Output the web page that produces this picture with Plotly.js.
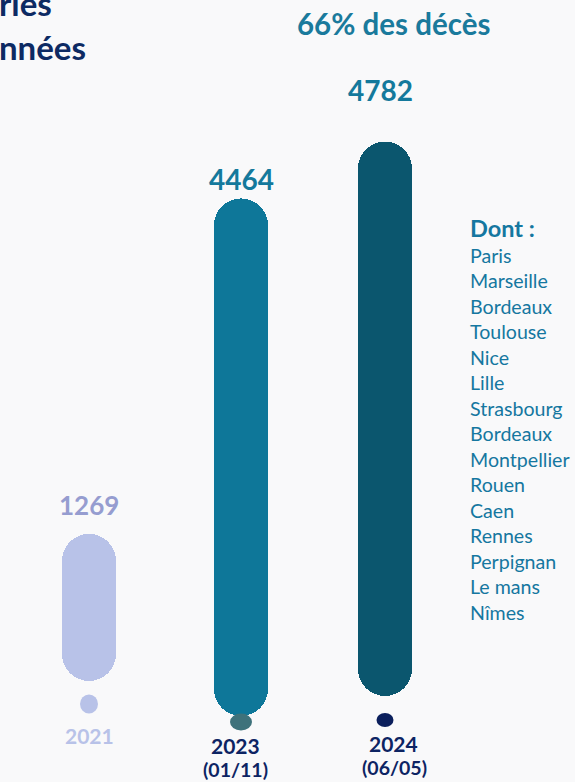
<!DOCTYPE html>
<html>
<head>
<meta charset="utf-8">
<script src="https://cdn.plot.ly/plotly-3.0.1.min.js"></script>
<style>
  html, body { margin: 0; padding: 0; background: #f9f9fa; }
  #chart { width: 575px; height: 782px; }
</style>
</head>
<body>
<div id="chart"></div>
<script>
// ---------- DATA ----------
const years = ['2021', '2023', '2024'];
const deaths = [1269, 4464, 4782];
const dateNotes = ['', '(01/11)', '(06/05)'];
const shareText = '66% des décès';
const listHeader = 'Dont :';
const cities = ['Paris', 'Marseille', 'Bordeaux', 'Toulouse', 'Nice', 'Lille', 'Strasbourg',
  'Bordeaux', 'Montpellier', 'Rouen', 'Caen', 'Rennes', 'Perpignan', 'Le mans', 'Nîmes'];
const titleLines = ['ries', 'nnées'];

// ---------- STYLE ----------
const W = 575, H = 782;
const FONT = 'Lato, "Open Sans", sans-serif';
const barColors = ['#b8c2e8', '#0e7799', '#0b566e'];
const labelColors = ['#969dd0', '#14799c', '#14799c'];
const yearColors = ['#b8c2e8', '#0d2463', '#0d2463'];
const dotColors = ['#b8c2e8', '#3e727b', '#0b1f5c'];
const cityColor = '#1577a0';
const titleColor = '#0d2a63';

const pxPerUnit = 0.11594;           // vertical scale (pixels per death)
const baselinePx = 700;              // pixel row of value 0
const yMin = -(H - baselinePx) / pxPerUnit;
const yMax = baselinePx / pxPerUnit;
const barLiftPx = [19, -16, 4];      // small vertical offsets of each pill
const base = barLiftPx.map(p => p / pxPerUnit);

const xDomain = [15 / W, 459 / W];
const catPx = (xDomain[1] - xDomain[0]) * W / years.length;
const barWidthPx = 54;
const barShiftPx = [0, 4, 0];
const w = barWidthPx / catPx;
const offs = barShiftPx.map(s => -w / 2 + s / catPx);

// pill = rounded upper half + rounded lower half + plain middle
const half = deaths.map(v => v / 2);
const mid = base.map((b, i) => b + deaths[i] / 2);
const common = {type: 'bar', x: years, width: w, offset: offs, hoverinfo: 'skip', showlegend: false};
const traces = [
  Object.assign({}, common, {y: half, base: mid,
    marker: {color: barColors, cornerradius: '50%', line: {width: 0}}}),
  Object.assign({}, common, {y: half.map(h => -h), base: mid,
    marker: {color: barColors, cornerradius: '50%', line: {width: 0}}}),
  Object.assign({}, common, {y: half, base: base.map((b, i) => b + deaths[i] / 4),
    marker: {color: barColors, line: {width: 0}}})
];

// dots under the pills (pixel-sized ellipses anchored at each pill bottom)
const dotGapPx = [23, 6, 24];
const dotSize = [[18, 19], [22, 17], [17, 14]];
const shapes = years.map((yr, i) => ({
  type: 'circle', xref: 'x', yref: 'y', xsizemode: 'pixel', ysizemode: 'pixel',
  xanchor: i, yanchor: base[i],
  x0: barShiftPx[i] - dotSize[i][0] / 2, x1: barShiftPx[i] + dotSize[i][0] / 2,
  y0: -dotGapPx[i] - dotSize[i][1] / 2, y1: -dotGapPx[i] + dotSize[i][1] / 2,
  fillcolor: dotColors[i], line: {width: 0}, layer: 'above'
}));

const py = top => 1 - top / H;
const annotations = [];
// value labels above pills
const valShiftY = [10.5, 0, 33], valShiftX = [0, 4.5, -5], valSize = [26, 28, 28];
years.forEach((yr, i) => annotations.push({
  x: i, y: base[i] + deaths[i], xref: 'x', yref: 'y', showarrow: false,
  yanchor: 'bottom', yshift: valShiftY[i], xshift: valShiftX[i],
  text: String(deaths[i]),
  font: {family: FONT, size: valSize[i], color: labelColors[i], weight: 700}
}));
// year labels
const yearTop = [721, 731, 729], yearShift = [0, -2, 8.5];
years.forEach((yr, i) => annotations.push({
  x: i, xref: 'x', y: py(yearTop[i]), yref: 'paper', yanchor: 'top', showarrow: false,
  xshift: yearShift[i], text: yr,
  font: {family: FONT, size: 21, color: yearColors[i], weight: 700}
}));
const noteTop = [0, 756, 754], noteShift = [0, -2, 9.5];
dateNotes.forEach((t, i) => { if (t) annotations.push({
  x: i, xref: 'x', y: py(noteTop[i]), yref: 'paper', yanchor: 'top', showarrow: false,
  xshift: noteShift[i], text: t,
  font: {family: FONT, size: 19.5, color: yearColors[i], weight: 700}
}); });
// headline
annotations.push({x: 393 / W, xref: 'paper', y: py(3.5), yref: 'paper', xanchor: 'center', yanchor: 'top',
  showarrow: false, text: shareText, font: {family: FONT, size: 29.5, color: '#1a7a9c', weight: 700}});
// cut-off title
annotations.push({x: -3 / W, xref: 'paper', y: py(-19), yref: 'paper', xanchor: 'left', yanchor: 'top',
  showarrow: false, text: titleLines[0], font: {family: FONT, size: 33, color: titleColor, weight: 700}});
annotations.push({x: -3 / W, xref: 'paper', y: py(25), yref: 'paper', xanchor: 'left', yanchor: 'top',
  showarrow: false, text: titleLines[1], font: {family: FONT, size: 33, color: titleColor, weight: 700}});
// city list
annotations.push({x: 468 / W, xref: 'paper', y: py(212), yref: 'paper', xanchor: 'left', yanchor: 'top',
  showarrow: false, text: listHeader, font: {family: FONT, size: 23.5, color: cityColor, weight: 700}});
annotations.push({x: 468 / W, xref: 'paper', y: py(242.4), yref: 'paper', xanchor: 'left', yanchor: 'top',
  align: 'left', showarrow: false, text: cities.join('<br>'),
  font: {family: FONT, size: 19.6, color: cityColor}});

const layout = {
  width: W, height: H,
  margin: {l: 0, r: 0, t: 0, b: 0},
  paper_bgcolor: '#f9f9fa', plot_bgcolor: '#f9f9fa',
  barmode: 'overlay', bargap: 0,
  showlegend: false,
  xaxis: {type: 'category', categoryarray: years, range: [-0.5, 2.5], domain: xDomain,
    visible: false, fixedrange: true},
  yaxis: {range: [yMin, yMax], visible: false, fixedrange: true},
  shapes: shapes,
  annotations: annotations
};

Plotly.newPlot('chart', traces, layout, {staticPlot: true, displayModeBar: false});
</script>
</body>
</html>
